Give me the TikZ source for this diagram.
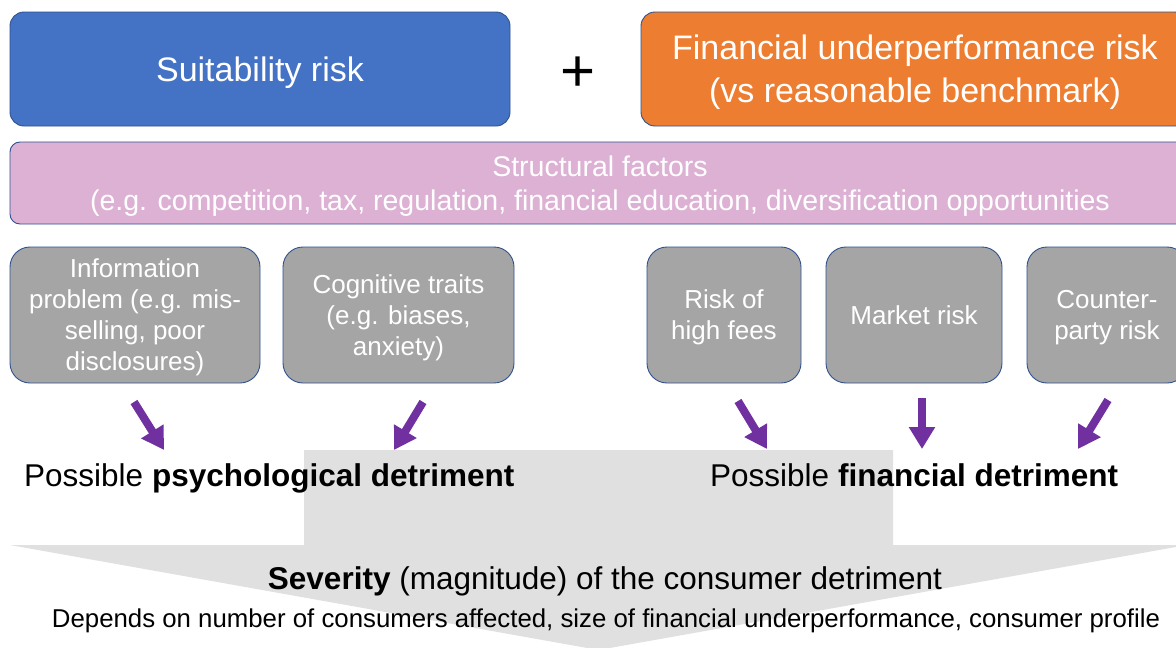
\documentclass[tikz,border=0pt]{standalone}
\usepackage{fontspec}
\setmainfont{Liberation Sans}
\usetikzlibrary{arrows.meta}
\definecolor{cblue}{RGB}{68,114,196}
\definecolor{corange}{RGB}{237,125,49}
\definecolor{cpink}{RGB}{221,177,212}
\definecolor{cgrey}{RGB}{165,165,165}
\definecolor{cborder}{RGB}{47,82,143}
\definecolor{cpurple}{RGB}{112,48,160}
\definecolor{cbig}{RGB}{224,224,224}
\begin{document}
\begin{tikzpicture}[x=1pt,y=-1pt,
  box/.style={draw=cborder, line width=0.9pt, text=white, align=center, inner sep=0pt, text depth=0pt},
  topbox/.style={box, rounded corners=14pt, font=\fontsize{34}{43}\selectfont},
  pinkbox/.style={box, fill=cpink, rounded corners=10pt, font=\fontsize{28.5}{34}\selectfont},
  greybox/.style={box, fill=cgrey, rounded corners=20pt, minimum height=136pt, font=\fontsize{26}{31}\selectfont},
  parrow/.style={draw=cpurple, line width=8pt, -{Triangle[length=22pt,width=25pt]}},
  bigtext/.style={anchor=base, inner sep=0pt, font=\fontsize{31.5}{36}\selectfont},
  smalltext/.style={anchor=base, inner sep=0pt, font=\fontsize{25.8}{30}\selectfont}]
\clip (0,0) rectangle (1176,648);
\fill[white] (0,0) rectangle (1176,648);
% big grey block arrow
\fill[cbig] (304,450) -- (893,450) -- (893,545) -- (1187,545) -- (598.5,650) -- (10,545) -- (304,545) -- cycle;
% top boxes
\node[topbox, fill=cblue, minimum width=500pt, minimum height=114pt] (suit) at (260,69) {Suitability risk};
\node[inner sep=0pt, font=\fontsize{60}{60}\selectfont] (plus) at (578,74) {+};
\node[topbox, fill=corange, minimum width=548pt, minimum height=114pt] (fin) at (915,69) {Financial underperformance risk\\(vs reasonable benchmark)};
% structural factors
\node[pinkbox, minimum width=1180pt, minimum height=82pt] (struct) at (600,183) {Structural factors\\(e.g. competition, tax, regulation, financial education, diversification opportunities};
% grey boxes
\node[greybox, minimum width=250pt] (info) at (135,315) {Information\\problem (e.g. mis-\\selling, poor\\disclosures)};
\node[greybox, minimum width=231pt] (cog) at (398.5,315) {Cognitive traits\\(e.g. biases,\\anxiety)};
\node[greybox, minimum width=154pt] (fees) at (724,315) {Risk of\\high fees};
\node[greybox, minimum width=176pt] (market) at (914,315) {Market risk};
\node[greybox, minimum width=160pt] (counter) at (1107,315) {Counter-\\party risk};
% arrow end points
\coordinate (a1s) at (134,402); \coordinate (a1e) at (164,450);
\coordinate (a2s) at (423,402); \coordinate (a2e) at (394,450);
\coordinate (a3s) at (738,401); \coordinate (a3e) at (767,449);
\coordinate (a4s) at (922,398); \coordinate (a4e) at (922,449);
\coordinate (a5s) at (1108,400); \coordinate (a5e) at (1078,449);
\draw[parrow] (a1s) -- (a1e);
\draw[parrow] (a2s) -- (a2e);
\draw[parrow] (a3s) -- (a3e);
\draw[parrow] (a4s) -- (a4e);
\draw[parrow] (a5s) -- (a5e);
% texts
\node[bigtext, anchor=base west] (psych) at (24,486) {Possible \textbf{psychological detriment}};
\node[bigtext, anchor=base west] (findet) at (710,486) {Possible \textbf{financial detriment}};
\node[bigtext] (sev) at (605,589) {\textbf{Severity} (magnitude) of the consumer detriment};
\node[smalltext] (dep) at (606,627) {Depends on number of consumers affected, size of financial underperformance, consumer profile};
\end{tikzpicture}
\end{document}
